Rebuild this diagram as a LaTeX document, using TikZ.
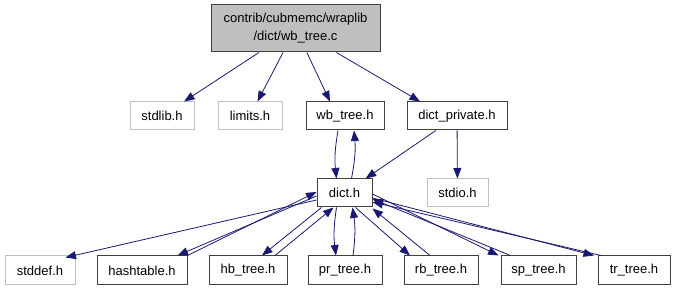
\documentclass[tikz,border=0pt]{standalone}
\usepackage{fontspec}
\setmainfont{Liberation Sans}
\usetikzlibrary{arrows.meta}

\definecolor{edgeblue}{HTML}{191970}
\definecolor{boxgray}{HTML}{BFBFBF}
\definecolor{boxline}{HTML}{404040}

\tikzset{
  file/.style={draw=boxline, line width=1pt, inner sep=0pt, minimum height=28pt,
    font=\fontsize{13}{18}\selectfont},
  sysfile/.style={file, draw=boxgray},
  incl/.style={draw=edgeblue, line width=0.8pt, -{Triangle[length=10.5pt,width=8pt]}}
}

\begin{document}
\begin{tikzpicture}[x=1pt,y=-1pt]
  \useasboundingbox (0,0) rectangle (675,291);

  % the source file
  \node[file, fill=boxgray, minimum width=169pt, minimum height=47pt, align=center]
    (top) at (295.5,28.5) {contrib/cubmemc/wraplib\\/dict/wb\_tree.c};

  % first level
  \node[sysfile, minimum width=64pt] (stdlib) at (162,116) {stdlib.h};
  \node[sysfile, minimum width=64pt] (limits) at (250,116) {limits.h};
  \node[file, minimum width=78pt] (wbh) at (345,116) {wb\_tree.h};
  \node[file, minimum width=100pt] (privh) at (457,116) {dict\_private.h};

  % second level
  \node[file, minimum width=55pt] (dict) at (344.5,193) {dict.h};
  \node[sysfile, minimum width=61pt] (stdio) at (457.5,193) {stdio.h};

  % bottom row
  \node[sysfile, minimum width=70pt, minimum height=29pt] (stddef) at (40,270.5) {stddef.h};
  \node[file, minimum width=90pt, minimum height=29pt] (hasht) at (142,270.5) {hashtable.h};
  \node[file, minimum width=78pt, minimum height=29pt] (hbh) at (248,270.5) {hb\_tree.h};
  \node[file, minimum width=74pt, minimum height=29pt] (prh) at (345,270.5) {pr\_tree.h};
  \node[file, minimum width=74pt, minimum height=29pt] (rbh) at (441,270.5) {rb\_tree.h};
  \node[file, minimum width=75pt, minimum height=29pt] (sph) at (538.5,270.5) {sp\_tree.h};
  \node[file, minimum width=72pt, minimum height=29pt] (trh) at (634,270.5) {tr\_tree.h};

  % includes of wb_tree.c
  \draw[incl] (top) -- (stdlib);
  \draw[incl] (top) -- (limits);
  \draw[incl] (top) -- ([xshift=-15pt]wbh.north);
  \draw[incl] (top) -- ([xshift=-37pt]privh.north);

  % wb_tree.h <-> dict.h
  \draw[incl] ([xshift=-7pt]wbh.south) to[bend right=8] ([xshift=-8pt]dict.north);
  \draw[incl] ([xshift=7pt]dict.north) to[bend right=8] ([xshift=9pt]wbh.south);

  \draw[incl] (privh) -- (dict);
  \draw[incl] (privh) -- (stdio);

  % dict.h and the trees
  \draw[incl] ([yshift=-7pt]dict.west) -- ([xshift=-10pt,yshift=-2pt]stddef.north east);
  \draw[incl] ([yshift=-3pt]dict.west) -- ([xshift=-10pt]hasht.north east);
  \draw[incl] (hasht.north east) -- ([yshift=1pt]dict.west);
  \draw[incl] ([xshift=5pt]dict.south west) -- ([xshift=14pt]hbh.north);
  \draw[incl] ([xshift=27pt]hbh.north) -- ([xshift=17pt]dict.south west);
  \draw[incl] ([xshift=-8pt]dict.south) to[bend right=8] ([xshift=-9pt]prh.north);
  \draw[incl] ([xshift=8pt]prh.north) to[bend right=8] ([xshift=8pt]dict.south);
  \draw[incl] ([xshift=11pt]dict.south) -- ([xshift=-31pt]rbh.north);
  \draw[incl] ([xshift=-11pt]rbh.north) -- ([yshift=-1pt]dict.south east);
  \draw[incl] ([yshift=-1pt]dict.east) -- ([xshift=-40pt]sph.north);
  \draw[incl] ([xshift=-28pt]sph.north) -- ([yshift=-6pt]dict.east);
  \draw[incl] ([yshift=-5pt]dict.east) -- ([xshift=-40pt]trh.north);
  \draw[incl] ([xshift=-33pt]trh.north) -- ([yshift=-9pt]dict.east);
\end{tikzpicture}
\end{document}
